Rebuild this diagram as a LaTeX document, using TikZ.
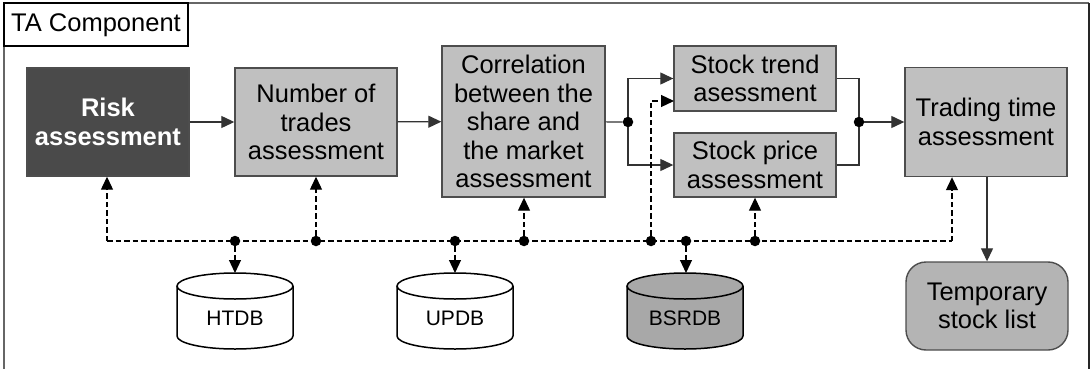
\documentclass[tikz,border=0pt]{standalone}
\usepackage{fontspec}
\setmainfont{Liberation Sans}
\usetikzlibrary{arrows.meta,calc}
\definecolor{boxgray}{HTML}{C0C0C0}
\definecolor{darkbox}{HTML}{4A4A4A}
\definecolor{edgegray}{HTML}{4D4D4D}
\definecolor{listgray}{HTML}{B4B4B4}
\definecolor{dbgray}{HTML}{A8A8A8}
\tikzset{
  stage/.style={draw=edgegray, line width=1.4pt, fill=boxgray, align=center,
    inner sep=0pt, font=\fontsize{25.5}{28.5}\selectfont},
  tip/.tip={Triangle[length=13pt,width=12pt]},
  flow/.style={line width=1.2pt, draw=black!80, -tip},
  wire/.style={line width=1.2pt, draw=black!80},
  bus/.style={line width=1.2pt, dash pattern=on 5.5pt off 3pt},
  busarrow/.style={bus, -tip},
  jdot/.style={circle, fill=black, inner sep=0pt, minimum size=10.5pt},
  dbtext/.style={font=\fontsize{21}{24}\selectfont},
}
\newcommand{\dbdraw}[3]{%
  % cylinder centred at x=#1, fill colour #2, name #3
  \fill[#2] (#1-58,286) -- (#1-58,336) arc (180:0:58 and 13) -- (#1+58,286) arc (0:-180:58 and 13) -- cycle;
  \draw[line width=1.5pt] (#1-58,286) -- (#1-58,336) arc (180:0:58 and 13) -- (#1+58,286);
  \draw[line width=1.5pt, fill=#2] (#1,286) ellipse [x radius=58, y radius=13];
  \coordinate (#3top) at (#1,273);
}
\begin{document}
\begin{tikzpicture}[x=1pt,y=-1pt]
\useasboundingbox (0,0) rectangle (1091,369);
\fill[white] (0,0) rectangle (1091,369);

% component frame and its title tab
\draw[line width=1.3pt, draw=black!60] (4,380) -- (4,3) -- (1089,3);
\draw[line width=1.3pt, draw=black!85] (1089,3) -- (1089,380);
\draw[line width=1.3pt] (4,3) rectangle (188,46);
\node[anchor=west, font=\fontsize{25.5}{28}\selectfont, inner sep=0pt] (title) at (11,25) {TA Component};

% assessment stages
\node[stage, fill=darkbox, text=white, font=\bfseries\fontsize{25.5}{28.5}\selectfont,
  minimum width=162, minimum height=108] (risk) at (108,122) {Risk\\assessment};
\node[stage, minimum width=162, minimum height=108] (trades) at (316,122) {Number of\\trades\\assessment};
\node[stage, minimum width=163, minimum height=151] (corr) at (523.5,121.5) {Correlation\\between the\\share and\\the market\\assessment};
\node[stage, minimum width=162, minimum height=65] (trend) at (755,78.5) {Stock trend\\asessment};
\node[stage, minimum width=162, minimum height=64] (price) at (755,165) {Stock price\\assessment};
\node[stage, minimum width=162, minimum height=109] (timing) at (986,122) {Trading time\\assessment};
\node[stage, fill=listgray, rounded corners=20pt,
  minimum width=162, minimum height=88] (temp) at (987,306) {Temporary\\stock list};

% databases
\dbdraw{235}{white}{htdb}
\dbdraw{455}{white}{updb}
\dbdraw{685}{dbgray}{bsrdb}
\node[dbtext] (htdb) at (235,318) {HTDB};
\node[dbtext] (updb) at (455,318) {UPDB};
\node[dbtext] (bsrdb) at (685,318) {BSRDB};

% main flow
\node[jdot] (split) at (628,122) {};
\node[jdot] (merge) at (859,122) {};
\draw[flow] (risk) -- (trades);
\draw[flow] (trades) -- (corr);
\draw[wire] (corr) -- (split);
\draw[flow] (split) |- (trend.west);
\draw[flow] (split) |- (price.west);
\draw[wire] (trend.east) -| (merge);
\draw[wire] (price.east) -| (merge);
\draw[flow] (merge) -- (timing);
\draw[flow] (timing.south -| temp) -- (temp);

% data bus
\coordinate (busL) at (107,241);
\coordinate (busR) at (952,241);
\coordinate (trendin) at (674,101);
\node[jdot] (b1) at (235,241) {};
\node[jdot] (b2) at (316,241) {};
\node[jdot] (b3) at (455,241) {};
\node[jdot] (b4) at (524,241) {};
\node[jdot] (b5) at (651,241) {};
\node[jdot] (b6) at (686,241) {};
\node[jdot] (b7) at (755,241) {};
\draw[bus] (busL) -- (busR);
\draw[busarrow] (busL) -- (risk.south -| busL);
\draw[busarrow] (b2) -- (trades.south);
\draw[busarrow] (b4) -- (corr.south -| b4);
\draw[busarrow] (b5) |- (trendin);
\draw[busarrow] (b7) -- (price.south -| b7);
\draw[busarrow] (busR) -- (timing.south -| busR);
\draw[busarrow] (b1) -- (htdbtop);
\draw[busarrow] (b3) -- (updbtop);
\draw[busarrow] (b6) -- (b6 |- bsrdbtop);
\end{tikzpicture}
\end{document}
